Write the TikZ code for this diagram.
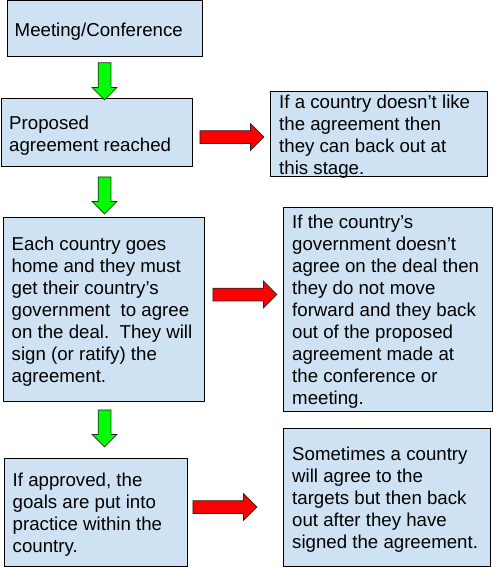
\documentclass[tikz,border=0pt]{standalone}
\usepackage{fontspec}
\setmainfont{Liberation Sans}
\usetikzlibrary{shapes.arrows}
\usetikzlibrary{calc}

\definecolor{boxblue}{RGB}{207,226,243}
\definecolor{arrowgreen}{RGB}{0,255,0}
\definecolor{arrowred}{RGB}{255,0,0}

\tikzset{
  stagebox/.style={draw=black, line width=1pt, fill=boxblue, rectangle, inner sep=0pt},
  stagetext/.style={anchor=west, inner sep=0pt, align=left,
    font=\fontsize{18.67}{22}\selectfont\frenchspacing},
  downarrow/.style={single arrow, draw=black!85, line width=0.75pt, fill=arrowgreen,
    rotate=-90, anchor=tail, inner xsep=0pt, inner ysep=6pt,
    single arrow head extend=6pt, minimum height=37pt, minimum width=24pt},
  sidearrow/.style={single arrow, draw=black!85, line width=0.75pt, fill=arrowred,
    anchor=tail, inner xsep=0pt, inner ysep=6pt,
    single arrow head extend=7pt, minimum height=64pt, minimum width=26pt}
}

\begin{document}
\begin{tikzpicture}[x=1pt,y=1pt,yscale=-1,xscale=1]
\useasboundingbox (0,0) rectangle (493,567);

% Stages
\node[stagebox, minimum width=195pt, minimum height=56pt] (meet) at (104.5,29) {};
\node[stagebox, minimum width=191pt, minimum height=67pt] (propose) at (96.5,132.5) {};
\node[stagebox, minimum width=201pt, minimum height=184pt] (ratify) at (103.5,309) {};
\node[stagebox, minimum width=183pt, minimum height=108pt] (approve) at (95.5,512) {};

% Backing out
\node[stagebox, minimum width=217pt, minimum height=84pt] (likeout) at (378.5,134) {};
\node[stagebox, minimum width=209pt, minimum height=204pt] (govout) at (387.5,309) {};
\node[stagebox, minimum width=207pt, minimum height=138pt] (signout) at (386.5,497) {};

% Texts
\node[stagetext] (meettext) at ($(meet.west)+(8,3)$) {Meeting/Conference};
\node[stagetext] (proposetext) at ($(propose.west)+(8.5,3)$) {Proposed\\agreement reached};
\node[stagetext] (ratifytext) at ($(ratify.west)+(9,3)$) {Each country goes\\home and they must\\get their country’s\\government~ to agree\\on the deal.~ They will\\sign (or ratify) the\\agreement.};
\node[stagetext] (approvetext) at ($(approve.west)+(9,3)$) {If approved, the\\goals are put into\\practice within the\\country.};
\node[stagetext] (likeouttext) at ($(likeout.west)+(9.5,3)$) {If a country doesn’t like\\the agreement then\\they can back out at\\this stage.};
\node[stagetext] (govouttext) at ($(govout.west)+(9.5,3)$) {If the country’s\\government doesn’t\\agree on the deal then\\they do not move\\forward and they back\\out of the proposed\\agreement made at\\the conference or\\meeting.};
\node[stagetext] (signouttext) at ($(signout.west)+(9.5,3)$) {Sometimes a country\\will agree to the\\targets but then back\\out after they have\\signed the agreement.};

% Green arrows
\node[downarrow] (go1) at ($(meet.south)+(0,5)$) {};
\node[downarrow] (go2) at ($(meet.south |- propose.south)+(0,10)$) {};
\node[downarrow] (go3) at ($(meet.south |- ratify.south)+(0,8)$) {};

% Red arrows
\node[sidearrow] (out1) at ($(propose.east)+(7,4.5)$) {};
\node[sidearrow] (out2) at ($(ratify.east)+(8,-14.5)$) {};
\node[sidearrow] (out3) at ($(approve.east)+(5,-5)$) {};

\end{tikzpicture}
\end{document}
